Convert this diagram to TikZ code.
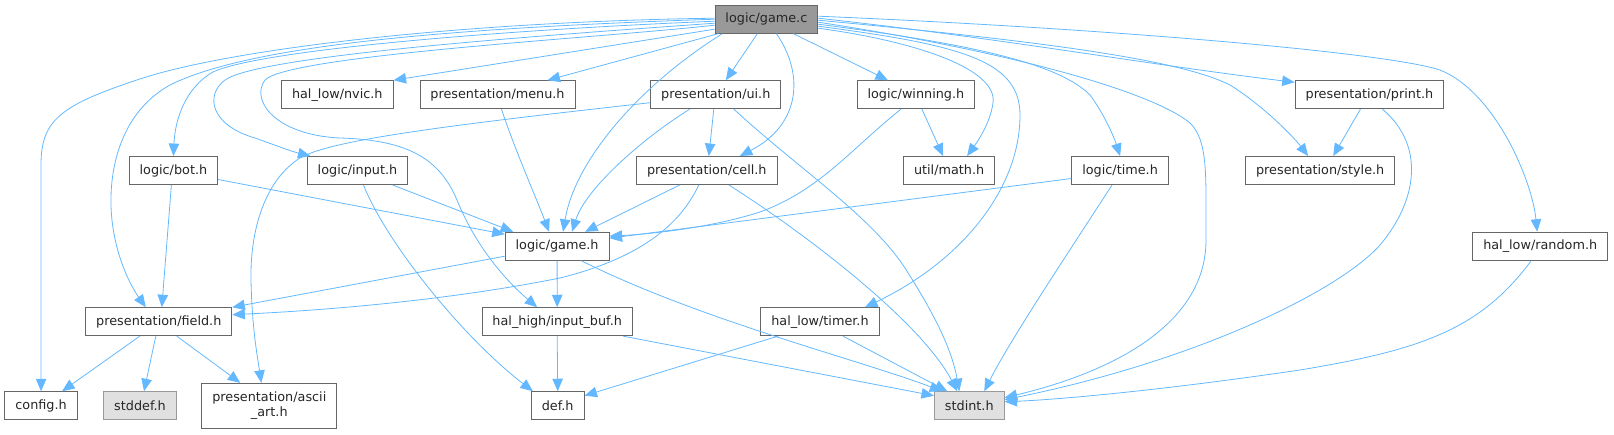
\documentclass[tikz,border=0pt]{standalone}
\usepackage{fontspec}
\setmainfont{DejaVu Sans}
\usetikzlibrary{arrows.meta}

\definecolor{edgeblue}{HTML}{63B8FF}
\definecolor{boxline}{HTML}{666666}
\definecolor{rootfill}{HTML}{999999}
\definecolor{sysfill}{HTML}{E0E0E0}
\definecolor{sysline}{HTML}{999999}

\begin{document}
\begin{tikzpicture}[
  x=1pt,
  y=-1pt,
  filebox/.style={
    draw=boxline,
    fill=white,
    line width=0.9pt,
    minimum height=28pt,
    inner xsep=10.5pt,
    inner ysep=0pt,
    text=black!85,
    font=\fontsize{12.8}{15}\selectfont
  },
  rootbox/.style={filebox, fill=rootfill},
  sysbox/.style={filebox, draw=sysline, fill=sysfill},
  dep/.style={
    draw=edgeblue,
    line width=0.8pt,
    -{Triangle[length=12.5pt,width=10.5pt]}
  }
]

% Canvas
\path[use as bounding box] (0,0) rectangle (1614,434);

% Root file
\node[rootbox] (gamec) at (766.4,19.2) {logic/game.c};

% First row
\node[filebox] (nvic)    at (337.3,94.7)  {hal\_low/nvic.h};
\node[filebox] (menu)    at (497.5,94.7)  {presentation/menu.h};
\node[filebox] (ui)      at (715.8,94.7)  {presentation/ui.h};
\node[filebox] (winning) at (915.9,94.7)  {logic/winning.h};
\node[filebox] (print)   at (1369.4,94.7) {presentation/print.h};

% Second row
\node[filebox] (bot)   at (173.4,170.5)  {logic/bot.h};
\node[filebox] (input) at (357.5,170.5)  {logic/input.h};
\node[filebox] (cell)  at (706.8,170.5)  {presentation/cell.h};
\node[filebox] (math)  at (949.1,170.5)  {util/math.h};
\node[filebox] (time)  at (1120.1,170.5) {logic/time.h};
\node[filebox] (style) at (1320.2,170.5) {presentation/style.h};

% Third row
\node[filebox] (gameh)  at (557.1,246.2)  {logic/game.h};
\node[filebox] (random) at (1540.2,246.2) {hal\_low/random.h};

% Fourth row
\node[filebox] (field)    at (158.8,321.7) {presentation/field.h};
\node[filebox] (inputbuf) at (557.2,321.7) {hal\_high/input\_buf.h};
\node[filebox] (timer)    at (820,321.7)   {hal\_low/timer.h};

% Bottom row
\node[filebox] (config) at (41.1,405.7) {config.h};
\node[sysbox]  (stddef) at (140,405.7)  {stddef.h};
\node[filebox, align=center, minimum height=45pt] (ascii) at (269.3,405.8)
  {presentation/ascii\\\_art.h};
\node[filebox] (def)    at (557.7,405.7) {def.h};
\node[sysbox]  (stdint) at (969.3,405.7) {stdint.h};

% Includes of the root, left side
\draw[dep] ([yshift=1pt]gamec.west) .. controls (450,22) and (230,50) .. (143,78)
  .. controls (60,105) and (41,120) .. (41,165) -- (config.north);
\draw[dep] (gamec.west) .. controls (450,28) and (250,45) .. (170,85)
  .. controls (125,110) and (110,160) .. (111,205)
  .. controls (112,250) and (130,285) .. ([xshift=-13pt]field.north);
\draw[dep] ([yshift=-2pt]gamec.west) .. controls (500,30) and (260,50) .. (213,72)
  .. controls (185,88) and (175,120) .. (bot.north);
\draw[dep] ([yshift=-4pt]gamec.west) .. controls (550,35) and (260,55) .. (225,80)
  .. controls (205,95) and (210,125) .. (255,138)
  .. controls (275,145) and (290,151) .. ([xshift=-47pt]input.north);
\draw[dep] ([yshift=-6pt]gamec.west) .. controls (600,38) and (290,55) .. (265,80)
  .. controls (250,100) and (275,135) .. (340,138)
  .. controls (410,140) and (440,160) .. (457,200)
  .. controls (475,245) and (505,280) .. ([xshift=-20pt]inputbuf.north);
\draw[dep] ([yshift=-10pt]gamec.west) -- (nvic.north east);
\draw[dep] ([xshift=-48pt]gamec.south) -- ([xshift=50pt]menu.north);
\draw[dep] ([xshift=-44pt]gamec.south) .. controls (640,85) and (575,160) .. ([xshift=6pt]gameh.north);

% Includes of the root, middle
\draw[dep] ([xshift=-9pt]gamec.south) -- ([xshift=10pt]ui.north);
\draw[dep] ([xshift=10pt]gamec.south) .. controls (805,75) and (800,125) .. ([xshift=33pt]cell.north);
\draw[dep] ([xshift=27pt]gamec.south) -- ([xshift=-28pt]winning.north);

% Includes of the root, right side
\draw[dep] ([yshift=-9pt]gamec.east) .. controls (920,42) and (998,70) .. (993,103)
  .. controls (990,125) and (975,145) .. ([xshift=18pt]math.north);
\draw[dep] ([yshift=-7pt]gamec.east) .. controls (960,45) and (1020,60) .. (1020,115)
  .. controls (1020,190) and (960,262) .. ([xshift=45pt]timer.north);
\draw[dep] ([yshift=-5pt]gamec.east) .. controls (980,45) and (1060,65) .. (1090,95)
  .. controls (1105,115) and (1115,140) .. (time.north);
\draw[dep] ([yshift=-3pt]gamec.east) .. controls (1000,50) and (1150,90) .. (1190,123)
  .. controls (1204,137) and (1206,160) .. (1206,200) -- (1206,240)
  .. controls (1206,330) and (1100,375) .. ([yshift=8pt]stdint.east);
\draw[dep] ([yshift=-1pt]gamec.east) .. controls (1050,42) and (1180,60) .. (1230,85)
  .. controls (1262,105) and (1292,135) .. ([xshift=-12pt]style.north);
\draw[dep] ([yshift=1pt]gamec.east) .. controls (1000,38) and (1150,65) .. ([yshift=-2pt]print.north west);
\draw[dep] ([yshift=3pt]gamec.east) .. controls (1100,28) and (1385,52) .. (1440,70)
  .. controls (1495,92) and (1532,180) .. ([xshift=-3pt]random.north);

% First row includes
\draw[dep] ([yshift=-8pt]ui.west) .. controls (450,125) and (330,140) .. (300,158)
  .. controls (265,180) and (250,230) .. (251,280)
  .. controls (252,330) and (258,360) .. ([xshift=-8pt]ascii.north);
\draw[dep] ([xshift=-26pt]ui.south) .. controls (640,140) and (585,190) .. ([xshift=15pt]gameh.north);
\draw[dep] ([xshift=-2pt]ui.south) -- ([xshift=2pt]cell.north);
\draw[dep] ([xshift=18pt]ui.south) .. controls (800,170) and (870,215) .. (905,268)
  .. controls (935,315) and (952,350) .. ([xshift=-10pt]stdint.north);
\draw[dep] ([xshift=4pt]menu.south) .. controls (515,150) and (535,195) .. ([xshift=-8pt]gameh.north);
\draw[dep] ([xshift=-15pt]winning.south) .. controls (850,150) and (820,190) .. (760,212)
  .. controls (710,228) and (650,234) .. ([yshift=10pt]gameh.east);
\draw[dep] ([xshift=6pt]winning.south) -- ([xshift=-6pt]math.north);
\draw[dep] ([xshift=-9pt]print.south) -- ([xshift=13pt]style.north);
\draw[dep] ([xshift=13pt]print.south) .. controls (1425,145) and (1418,200) .. (1380,245)
  .. controls (1340,290) and (1200,360) .. ([yshift=6pt]stdint.east);

% Second row includes
\draw[dep] ([yshift=-9pt]bot.east) -- ([yshift=12pt]gameh.west);
\draw[dep] ([xshift=-2pt]bot.south) -- ([xshift=3pt]field.north);
\draw[dep] ([xshift=35pt]input.south) -- ([xshift=-44pt]gameh.north);
\draw[dep] ([xshift=6pt]input.south) .. controls (385,240) and (460,335) .. ([xshift=2pt]def.north west);
\draw[dep] ([xshift=-27pt]cell.south) -- ([xshift=28pt]gameh.north);
\draw[dep] ([xshift=-8pt]cell.south) .. controls (680,225) and (640,258) .. (560,278)
  .. controls (450,300) and (330,310) .. ([yshift=7pt]field.east);
\draw[dep] ([xshift=22pt]cell.south) .. controls (800,230) and (920,320) .. ([xshift=-12pt]stdint.north);
\draw[dep] ([yshift=-8pt]time.west) -- ([yshift=8pt]gameh.east);
\draw[dep] ([xshift=-8pt]time.south) .. controls (1070,250) and (1010,340) .. ([xshift=15pt]stdint.north);

% Third row includes
\draw[dep] ([yshift=-10pt]gameh.west) -- (field.north east);
\draw[dep] (gameh.south) -- (inputbuf.north);
\draw[dep] ([xshift=24pt]gameh.south) .. controls (700,320) and (860,360) .. ([xshift=-27pt]stdint.north);
\draw[dep] ([xshift=-9pt]random.south) .. controls (1480,330) and (1420,350) .. (1300,370)
  .. controls (1150,392) and (1050,400) .. ([yshift=4pt]stdint.east);

% Fourth row includes
\draw[dep] ([xshift=-19pt]field.south) -- ([xshift=21pt]config.north);
\draw[dep] ([xshift=-3pt]field.south) -- ([xshift=4pt]stddef.north);
\draw[dep] ([xshift=18pt]field.south) -- ([xshift=-29pt]ascii.north);
\draw[dep] (inputbuf.south) -- (def.north);
\draw[dep] ([xshift=66pt]inputbuf.south) -- ([yshift=10pt]stdint.west);
\draw[dep] ([xshift=-42pt]timer.south) -- ([yshift=10pt]def.east);
\draw[dep] ([xshift=23pt]timer.south) -- ([xshift=-22pt]stdint.north);

\end{tikzpicture}
\end{document}
